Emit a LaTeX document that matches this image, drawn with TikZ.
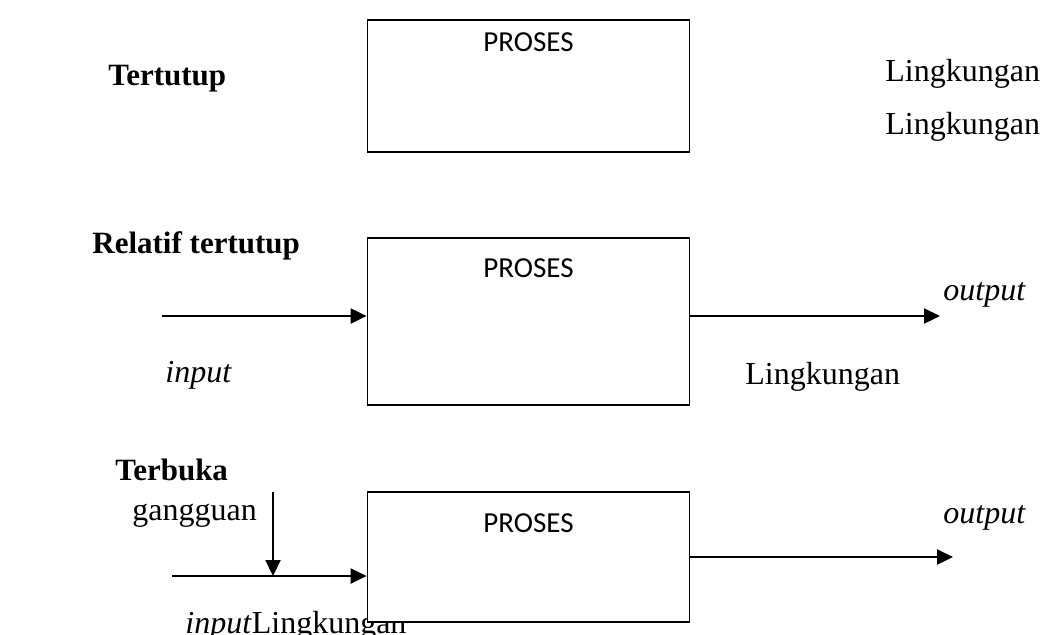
\documentclass[tikz,border=0pt]{standalone}
\usepackage{fontspec}
\setmainfont{Liberation Serif}
\newfontfamily\procfont{Carlito}
\usetikzlibrary{arrows.meta}
\begin{document}
\begin{tikzpicture}[x=0.5pt,y=-0.5pt,
  procbox/.style={draw, line width=0.9pt, fill=white, minimum width=161pt, inner sep=0pt},
  proclabel/.style={font=\procfont\fontsize{14.5}{17}\selectfont, anchor=base, inner sep=0pt},
  lbl/.style={font=\fontsize{16}{19}\selectfont, inner sep=0pt},
  hdr/.style={font=\fontsize{15.5}{19}\selectfont\bfseries, inner sep=0pt},
  flow/.style={line width=1.1pt, -{Triangle[length=8pt,width=7.5pt]}}]
\useasboundingbox (0,0) rectangle (1043,634);
% tertutup
\node[hdr, anchor=base west] (closedhdr) at (108,85) {Tertutup};
\node[procbox, minimum height=66pt] (closedbox) at (528.5,86) {};
\node[proclabel] (closedlbl) at (528.5,51) {PROSES};
\node[lbl, anchor=base west] (envA) at (885,81) {Lingkungan};
\node[lbl, anchor=base west] (envB) at (885,134) {Lingkungan};
% relatif tertutup
\node[hdr, anchor=base west] (relhdr) at (92,253) {Relatif tertutup};
\node[procbox, minimum height=83.5pt] (relbox) at (528.5,321.5) {};
\node[proclabel] (rellbl) at (528.5,277) {PROSES};
\coordinate (relin) at (162,316);
\coordinate (relout) at (940,316);
\draw[flow] (relin) -- (relbox.west |- relin);
\draw[flow] (relbox.east |- relout) -- (relout);
\node[lbl, anchor=base west, font=\fontsize{16}{19}\selectfont\itshape] (relinlbl) at (165,382) {input};
\node[lbl, anchor=base west, font=\fontsize{16}{19}\selectfont\itshape] (reloutlbl) at (943,300) {output};
\node[lbl, anchor=base west] (envC) at (745,384) {Lingkungan};
% terbuka
\node[hdr, anchor=base west] (openhdr) at (115,480) {Terbuka};
\node[lbl, anchor=base west] (openenv) at (185,633) {\textit{input}Lingkungan};
\node[procbox, minimum height=65pt] (openbox) at (528.5,557) {};
\node[proclabel] (openlbl) at (528.5,532) {PROSES};
\node[lbl, anchor=base west] (noise) at (132,520) {gangguan};
\coordinate (noisetop) at (273,492);
\coordinate (openin) at (172,576);
\coordinate (openout) at (953,557);
\draw[flow] (noisetop) -- (noisetop |- openin);
\draw[flow] (openin) -- (openbox.west |- openin);
\draw[flow] (openbox.east |- openout) -- (openout);
\node[lbl, anchor=base west, font=\fontsize{16}{19}\selectfont\itshape] (openoutlbl) at (943,523) {output};
\end{tikzpicture}
\end{document}
